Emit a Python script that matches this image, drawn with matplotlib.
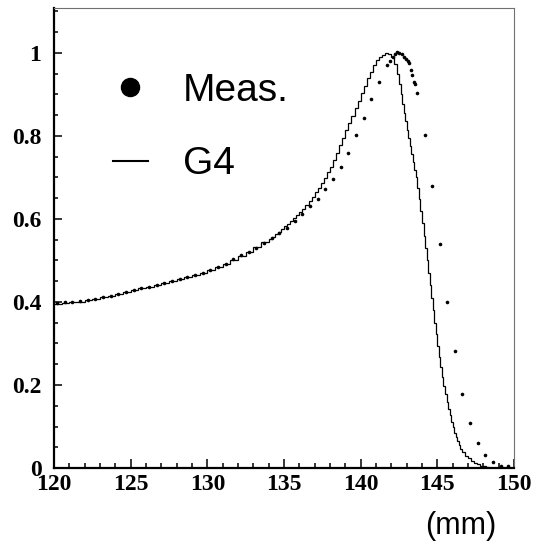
import numpy as np
import matplotlib
matplotlib.use("Agg")
import matplotlib.pyplot as plt
from matplotlib.lines import Line2D
from matplotlib.font_manager import FontProperties

# measured profile (normalised to peak)
meas_x = [120.2, 120.7, 121.2, 121.7, 122.2, 122.7, 123.2, 123.7, 124.2, 124.7,
          125.2, 125.7, 126.2, 126.7, 127.2, 127.7, 128.2, 128.7, 129.2, 129.7,
          130.2, 130.7, 131.2, 131.7, 132.2, 132.7, 133.2, 133.7, 134.2, 134.7,
          135.2, 135.7, 136.2, 136.7, 137.2, 137.7, 138.2, 138.7, 139.2, 139.7,
          140.2, 140.7, 141.2, 141.7,
          141.92, 142.09, 142.24, 142.39, 142.52, 142.68, 142.83, 142.96, 143.09,
          143.18, 143.27, 143.35, 143.48, 143.57, 143.7,
          144.2, 144.66, 145.18, 145.64, 146.16, 146.63, 147.13, 147.64, 148.13,
          148.66, 149.14, 149.6]
meas_y = [0.398, 0.399, 0.400, 0.402, 0.404, 0.407, 0.411, 0.415, 0.419, 0.424,
          0.429, 0.433, 0.437, 0.441, 0.445, 0.450, 0.455, 0.460, 0.465, 0.470,
          0.476, 0.483, 0.491, 0.503, 0.513, 0.521, 0.531, 0.541, 0.555, 0.565,
          0.578, 0.596, 0.611, 0.631, 0.647, 0.672, 0.696, 0.725, 0.758, 0.802,
          0.842, 0.888, 0.929, 0.970,
          0.981, 0.991, 0.998, 1.001, 1.000, 0.998, 0.991, 0.985, 0.980,
          0.975, 0.959, 0.946, 0.930, 0.924, 0.904,
          0.803, 0.680, 0.540, 0.400, 0.282, 0.178, 0.108, 0.060, 0.031,
          0.014, 0.006, 0.004]

# G4 simulation histogram, bin contents
g4_counts = [
    # 120 - 134, 0.5 mm bins
    0.396, 0.397, 0.399, 0.401, 0.404, 0.407, 0.411, 0.415, 0.419, 0.424,
    0.429, 0.433, 0.437, 0.442, 0.446, 0.451, 0.456, 0.461, 0.466, 0.470,
    0.476, 0.483, 0.491, 0.501, 0.511, 0.521, 0.532, 0.544,
    # 134 - 142.4, 0.2 mm bins
    0.552, 0.557, 0.563, 0.569, 0.575, 0.582, 0.588, 0.595, 0.602, 0.609,
    0.617, 0.625, 0.634, 0.643, 0.653, 0.664, 0.675, 0.687, 0.699, 0.712,
    0.725, 0.742, 0.759, 0.777, 0.795, 0.813, 0.831, 0.849, 0.867, 0.885,
    0.903, 0.921, 0.939, 0.955, 0.970, 0.982, 0.990, 0.996, 1.000, 0.998,
    0.990, 0.972,
    # 142.4 - 146.6, 0.1 mm bins
    0.950, 0.925, 0.900, 0.877, 0.856, 0.835, 0.814, 0.794, 0.775, 0.757,
    0.738, 0.719, 0.700, 0.675, 0.648, 0.620, 0.590, 0.560, 0.530, 0.500,
    0.470, 0.440, 0.410, 0.380, 0.350, 0.322, 0.295, 0.268, 0.243, 0.220,
    0.198, 0.178, 0.160, 0.143, 0.127, 0.112, 0.098, 0.085, 0.074, 0.064,
    0.055, 0.047,
    # 146.6 - 148.6, 0.2 mm bins
    0.038, 0.030, 0.023, 0.017, 0.012, 0.009, 0.006, 0.004, 0.002, 0.001,
    # 148.6 - 150
    0.0,
]
g4_edges = np.concatenate([
    np.linspace(120, 134, 29),
    np.linspace(134, 142.4, 43)[1:],
    np.linspace(142.4, 146.6, 43)[1:],
    np.linspace(146.6, 148.6, 11)[1:],
    [150.0],
])

x_ticks = [120, 125, 130, 135, 140, 145, 150]
y_ticks = [0, 0.2, 0.4, 0.6, 0.8, 1]
y_ticklabels = ["0", "0.2", "0.4", "0.6", "0.8", "1"]

fig = plt.figure(figsize=(5.33, 5.41), dpi=100)
ax = fig.add_axes([0.1013, 0.1349, 0.8631, 0.8503])

ax.stairs(g4_counts, g4_edges, baseline=None, color="black", lw=0.9)
ax.plot(meas_x, meas_y, "o", color="black", ms=2.6, mew=0)

ax.set_xlim(120, 150)
ax.set_ylim(0, 1.108)

ax.set_xticks(x_ticks)
ax.set_xticks(np.arange(120, 151, 1), minor=True)
ax.set_yticks(y_ticks)
ax.set_yticklabels(y_ticklabels)
ax.set_yticks(np.arange(0, 1.11, 0.05), minor=True)

tick_font = FontProperties(family="Liberation Serif", weight="bold", size=17)
for lab in ax.get_xticklabels() + ax.get_yticklabels():
    lab.set_fontproperties(tick_font)

ax.tick_params(axis="both", which="both", direction="in", top=False, right=False,
               width=1.1, color="black")
ax.tick_params(axis="x", which="major", length=6.5, pad=4)
ax.tick_params(axis="x", which="minor", length=3.5)
ax.tick_params(axis="y", which="major", length=6, pad=9)
ax.tick_params(axis="y", which="minor", length=3)

for side in ("left", "bottom"):
    ax.spines[side].set_linewidth(1.6)
    ax.spines[side].set_color("black")
for side in ("top", "right"):
    ax.spines[side].set_linewidth(0.8)
    ax.spines[side].set_color("#707070")

ax.set_xlabel("(mm)", family="Liberation Sans", fontsize=22)
ax.xaxis.set_label_coords(0.884, -0.093)

handles = [
    Line2D([], [], ls="none", marker="o", ms=13, color="black"),
    Line2D([], [], color="black", lw=1.5),
]
ax.legend(handles, ["Meas.", "G4"], loc="upper left", bbox_to_anchor=(0.085, 0.902),
          frameon=False, prop=dict(family="Liberation Sans", size=28),
          handlelength=0.9, handletextpad=0.9, labelspacing=0.97, borderpad=0)

fig.savefig("out.png", dpi=100)
